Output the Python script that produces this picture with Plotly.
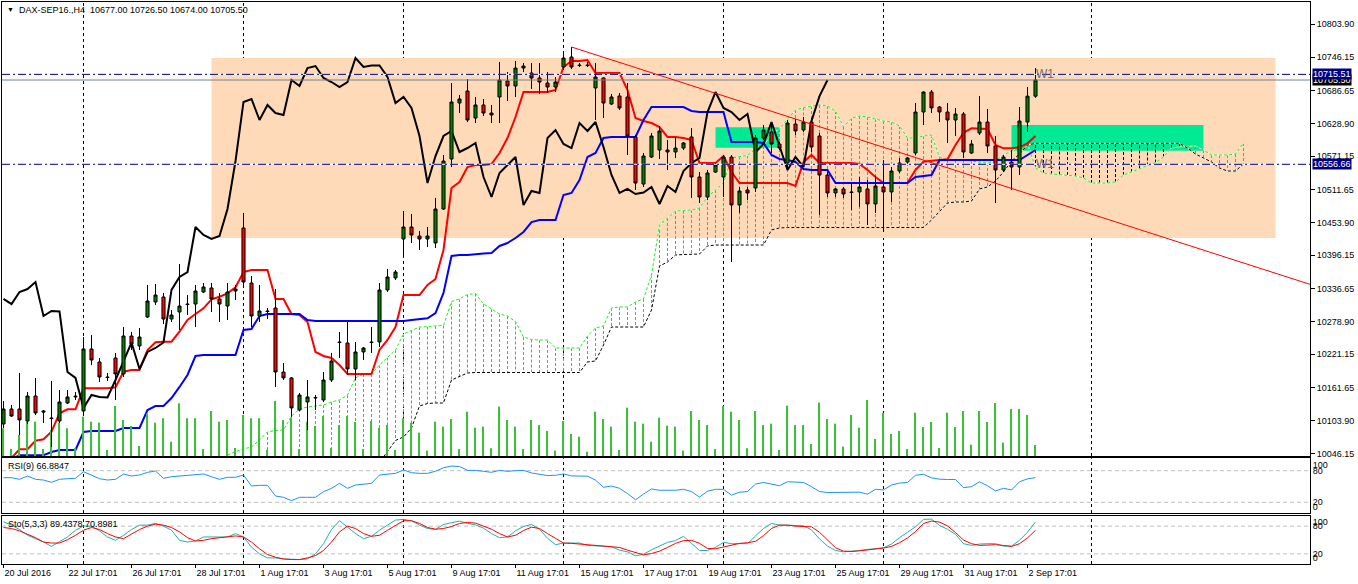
import plotly.graph_objects as go

# DAX-SEP16 H4 bars, 20 Jul 2016 17:01 .. 2 Sep 2016
bar_open = [
    10098.0, 10124.5, 10124.5, 10103.3, 10147.5, 10121.0, 10108.6, 10103.3, 10135.1, 10145.7,
    10121.0, 10230.5, 10207.5, 10181.0, 10214.6, 10186.3, 10253.4, 10235.8, 10287.0, 10313.5,
    10322.3, 10283.4, 10295.8, 10309.9, 10309.9, 10331.1, 10338.2, 10318.8, 10306.4, 10332.9,
    10444.2, 10347.0, 10288.7, 10297.6, 10302.9, 10189.8, 10179.3, 10122.7, 10136.9, 10143.9,
    10140.4, 10175.7, 10242.8, 10241.1, 10195.2, 10225.2, 10242.8, 10242.8, 10334.7, 10355.9,
    10424.7, 10445.9, 10430.0, 10424.7, 10417.7, 10477.7, 10566.0, 10664.9, 10686.1, 10638.4,
    10661.4, 10647.2, 10675.5, 10703.8, 10694.9, 10726.7, 10717.9, 10709.1, 10700.2, 10693.2,
    10728.5, 10746.1, 10732.0, 10732.0, 10691.4, 10709.1, 10663.1, 10677.3, 10675.5, 10604.9,
    10521.8, 10569.5, 10581.9, 10581.9, 10578.4, 10585.4, 10604.9, 10534.2, 10498.9, 10543.0,
    10534.2, 10569.5, 10484.8, 10511.3, 10514.8, 10603.1, 10613.7, 10592.5, 10558.9, 10627.8,
    10617.2, 10631.3, 10606.6, 10537.7, 10506.0, 10513.1, 10507.8, 10507.8, 10513.1, 10486.6,
    10516.6, 10507.8, 10544.8, 10560.7, 10576.6, 10649.0, 10684.3, 10657.8, 10649.0, 10634.9,
    10645.5, 10576.6, 10611.9, 10631.3, 10589.0, 10546.6, 10560.7, 10551.9, 10631.3, 10677.0,
]
bar_high = [
    10138.6, 10131.6, 10188.1, 10154.5, 10179.3, 10122.7, 10174.0, 10158.1, 10158.1, 10154.5,
    10251.6, 10255.2, 10214.6, 10188.1, 10223.4, 10269.3, 10260.5, 10267.5, 10343.5, 10345.3,
    10329.4, 10299.3, 10380.6, 10325.8, 10343.5, 10347.0, 10347.0, 10329.4, 10347.0, 10343.5,
    10470.7, 10359.4, 10343.5, 10302.9, 10336.4, 10205.7, 10181.0, 10152.8, 10175.7, 10149.2,
    10189.8, 10223.4, 10260.5, 10278.1, 10242.8, 10234.0, 10269.3, 10347.0, 10371.7, 10370.0,
    10474.2, 10468.9, 10438.9, 10445.9, 10497.2, 10573.1, 10700.2, 10679.0, 10707.3, 10675.5,
    10672.0, 10661.4, 10737.3, 10719.6, 10739.1, 10735.5, 10735.5, 10735.5, 10719.6, 10710.8,
    10751.4, 10763.8, 10735.5, 10737.3, 10735.5, 10710.0, 10680.8, 10682.6, 10700.2, 10608.4,
    10576.6, 10611.9, 10624.3, 10599.6, 10604.9, 10596.1, 10620.8, 10543.0, 10546.6, 10558.9,
    10573.1, 10573.1, 10516.6, 10516.6, 10608.4, 10626.0, 10631.3, 10596.1, 10634.9, 10636.6,
    10640.2, 10638.4, 10611.9, 10543.0, 10514.8, 10516.6, 10523.6, 10534.2, 10528.9, 10536.0,
    10564.2, 10551.9, 10567.8, 10569.5, 10664.9, 10685.5, 10687.9, 10659.6, 10664.9, 10656.1,
    10649.0, 10599.6, 10677.3, 10654.3, 10606.6, 10573.1, 10581.9, 10657.8, 10693.2, 10726.5,
]
bar_low = [
    10091.0, 10110.4, 10078.6, 10098.0, 10113.9, 10099.8, 10057.4, 10099.8, 10133.3, 10140.4,
    10112.1, 10202.2, 10172.2, 10174.0, 10140.4, 10181.0, 10228.7, 10228.7, 10285.2, 10308.2,
    10274.6, 10278.1, 10264.0, 10290.5, 10269.3, 10329.4, 10295.8, 10278.1, 10281.7, 10317.0,
    10340.0, 10269.3, 10278.1, 10283.4, 10163.4, 10175.7, 10110.4, 10121.0, 10087.4, 10122.7,
    10136.9, 10172.2, 10214.6, 10184.6, 10175.7, 10211.0, 10223.4, 10234.0, 10331.1, 10352.3,
    10394.7, 10417.7, 10405.3, 10410.6, 10408.8, 10476.0, 10551.9, 10647.2, 10631.3, 10629.6,
    10641.9, 10629.6, 10629.6, 10668.4, 10675.5, 10719.6, 10689.6, 10680.8, 10682.6, 10684.3,
    10723.2, 10724.9, 10728.5, 10728.5, 10634.9, 10638.4, 10661.4, 10652.5, 10573.1, 10511.3,
    10516.6, 10567.8, 10566.0, 10546.6, 10567.8, 10581.9, 10497.2, 10488.3, 10493.6, 10541.3,
    10498.9, 10384.1, 10470.7, 10493.6, 10507.8, 10599.6, 10576.6, 10581.9, 10546.6, 10608.4,
    10613.7, 10578.4, 10467.1, 10498.9, 10498.9, 10497.2, 10476.0, 10481.3, 10449.5, 10470.7,
    10437.1, 10490.1, 10541.3, 10557.2, 10573.1, 10626.0, 10647.2, 10631.3, 10594.3, 10606.6,
    10567.8, 10575.0, 10608.4, 10576.6, 10488.3, 10543.0, 10511.3, 10537.7, 10613.7, 10674.0,
]
bar_close = [
    10124.5, 10112.1, 10105.1, 10147.5, 10117.4, 10119.2, 10107.7, 10136.9, 10145.7, 10147.0,
    10230.5, 10211.0, 10181.0, 10180.1, 10186.3, 10253.4, 10239.3, 10251.6, 10315.2, 10325.8,
    10283.4, 10290.5, 10306.4, 10309.1, 10332.9, 10340.0, 10318.8, 10309.9, 10331.1, 10336.4,
    10348.8, 10288.7, 10297.6, 10296.7, 10189.8, 10179.3, 10126.3, 10149.2, 10145.7, 10144.8,
    10175.7, 10209.3, 10241.9, 10195.2, 10225.2, 10232.2, 10241.9, 10334.7, 10357.6, 10366.4,
    10445.9, 10431.8, 10424.7, 10430.0, 10477.7, 10562.5, 10666.7, 10672.0, 10634.9, 10661.4,
    10647.2, 10643.7, 10705.5, 10694.9, 10726.7, 10730.2, 10709.1, 10702.0, 10693.2, 10702.0,
    10744.4, 10728.5, 10731.1, 10731.1, 10710.8, 10664.9, 10675.5, 10656.1, 10606.6, 10523.6,
    10571.3, 10606.6, 10615.5, 10578.4, 10585.4, 10594.3, 10534.2, 10498.9, 10541.3, 10555.4,
    10569.5, 10484.8, 10509.5, 10506.0, 10603.1, 10617.2, 10592.5, 10585.4, 10629.6, 10615.5,
    10631.3, 10587.2, 10537.7, 10506.0, 10513.1, 10504.2, 10506.9, 10516.6, 10486.6, 10518.3,
    10507.8, 10544.8, 10558.9, 10567.8, 10649.0, 10684.3, 10656.1, 10649.0, 10634.9, 10645.5,
    10578.4, 10592.5, 10631.3, 10589.0, 10546.6, 10569.5, 10551.9, 10633.1, 10677.0, 10705.5,
]
tick_volume = [
    1385, 350, 1050, 1715, 1715, 350, 1300, 1665, 1385, 400,
    1965, 1715, 1665, 300, 2500, 1800, 1500, 500, 2135, 1665,
    1885, 715, 2635, 1885, 1885, 350, 2250, 1715, 1800, 400,
    2050, 1885, 1885, 300, 2750, 1800, 1885, 350, 1715, 1500,
    2000, 400, 1550, 2000, 1700, 350, 1750, 1400, 1550, 300,
    1885, 1665, 1165, 265, 1715, 1465, 1850, 350, 2215, 1415,
    1465, 385, 2465, 1800, 1465, 350, 1800, 1550, 1250, 265,
    1750, 1100, 965, 215, 2215, 1850, 1465, 300, 2415, 1715,
    1615, 715, 1915, 1515, 1465, 265, 2250, 1800, 1550, 350,
    2500, 2215, 1800, 385, 2250, 1550, 1615, 300, 2515, 1550,
    1550, 600, 2665, 1850, 1615, 465, 2050, 1415, 2800, 850,
    2165, 1100, 1250, 350, 2165, 1450, 1700, 400, 2165, 1450,
    2250, 565, 2250, 1700, 2650, 665, 2350, 2350, 2050, 550,
]

# Ichimoku (9, 26, 52) buffers as drawn
tenkan = [
    10030.0, 10038.0, 10053.3, 10053.3, 10068.5, 10071.0, 10084.4, 10116.9, 10124.0, 10124.0,
    10161.1, 10161.1, 10161.1, 10161.1, 10162.8, 10190.4, 10193.4, 10193.4, 10228.7, 10242.3,
    10243.4, 10243.4, 10261.0, 10281.7, 10292.3, 10302.3, 10318.2, 10322.8, 10328.8, 10339.4,
    10366.4, 10370.0, 10370.0, 10370.0, 10318.8, 10318.8, 10292.3, 10290.5, 10278.1, 10225.2,
    10218.1, 10214.6, 10202.2, 10186.3, 10186.3, 10186.3, 10186.3, 10228.7, 10246.4, 10269.3,
    10325.8, 10325.8, 10325.8, 10343.5, 10354.1, 10405.3, 10514.8, 10525.4, 10551.9, 10555.4,
    10555.4, 10557.2, 10576.6, 10603.1, 10640.2, 10684.3, 10684.3, 10684.3, 10684.3, 10687.9,
    10728.5, 10739.1, 10739.1, 10740.8, 10717.9, 10717.9, 10717.9, 10717.9, 10687.9, 10638.4,
    10633.1, 10629.6, 10622.5, 10604.9, 10604.9, 10603.1, 10599.6, 10558.9, 10558.9, 10558.9,
    10571.3, 10543.0, 10523.6, 10523.6, 10523.6, 10523.6, 10523.6, 10523.6, 10523.6, 10518.3,
    10560.7, 10573.1, 10558.9, 10558.9, 10558.9, 10558.9, 10558.9, 10557.2, 10546.6, 10534.2,
    10523.6, 10523.6, 10523.6, 10524.2, 10546.6, 10561.2, 10563.0, 10564.2, 10565.5, 10590.7,
    10612.5, 10620.2, 10620.2, 10619.0, 10590.7, 10584.9, 10584.9, 10586.7, 10593.7, 10606.6,
]
kijun = [
    10030.0, 10035.0, 10043.0, 10043.0, 10043.0, 10043.0, 10048.6, 10052.1, 10052.1, 10052.1,
    10083.9, 10085.7, 10085.7, 10085.7, 10085.7, 10091.0, 10091.0, 10091.0, 10122.7, 10129.8,
    10129.8, 10143.9, 10163.4, 10184.6, 10218.1, 10219.9, 10219.9, 10219.9, 10219.9, 10219.9,
    10264.0, 10265.8, 10288.7, 10292.3, 10292.3, 10292.3, 10292.3, 10292.3, 10281.7, 10279.9,
    10279.9, 10279.9, 10279.9, 10279.9, 10279.9, 10279.9, 10279.9, 10279.9, 10279.9, 10279.9,
    10279.9, 10281.7, 10282.6, 10284.7, 10294.0, 10329.4, 10394.7, 10396.5, 10396.5, 10398.2,
    10399.1, 10400.0, 10412.4, 10417.7, 10426.5, 10437.1, 10454.7, 10458.3, 10458.3, 10458.3,
    10502.4, 10506.0, 10528.9, 10569.5, 10576.6, 10603.1, 10604.9, 10604.9, 10604.9, 10604.9,
    10634.9, 10657.8, 10657.8, 10657.8, 10657.8, 10657.8, 10650.8, 10649.0, 10649.0, 10649.0,
    10649.0, 10596.0, 10596.0, 10596.0, 10596.0, 10594.3, 10573.1, 10566.0, 10564.2, 10560.7,
    10548.3, 10546.6, 10546.6, 10546.6, 10523.6, 10523.6, 10523.6, 10523.6, 10523.6, 10523.6,
    10523.6, 10523.6, 10523.6, 10523.6, 10534.2, 10536.0, 10537.7, 10564.2, 10564.2, 10564.2,
    10564.2, 10564.2, 10564.2, 10564.2, 10564.2, 10564.2, 10564.2, 10564.2, 10573.1, 10581.9,
]
# senkou spans run 26 bars past the last candle (bars 0..155); nothing visible before bar 28
span_a = [None] * 28 + [
    10043.3, 10049.4, 10053.9, 10057.4, 10069.8, 10083.9, 10086.5, 10087.4, 10112.1, 10124.5,
    10128.0, 10129.8, 10131.6, 10136.9, 10140.4, 10149.2, 10179.3, 10186.3, 10186.3, 10202.2,
    10215.5, 10228.7, 10256.9, 10263.1, 10269.3, 10270.2, 10271.1, 10272.0, 10314.3, 10318.8,
    10326.7, 10328.5, 10309.9, 10301.1, 10292.3, 10288.7, 10279.0, 10251.6, 10247.2, 10246.4,
    10246.4, 10232.2, 10232.2, 10232.2, 10232.2, 10253.4, 10267.5, 10271.1, 10302.9, 10304.6,
    10304.6, 10313.5, 10318.8, 10361.1, 10449.5, 10461.8, 10474.2, 10475.1, 10476.0, 10479.5,
    10498.9, 10511.3, 10523.6, 10567.8, 10570.4, 10572.2, 10583.7, 10589.0, 10610.2, 10619.0,
    10636.6, 10652.5, 10656.9, 10659.6, 10661.4, 10659.6, 10650.8, 10623.0, 10638.4, 10641.9,
    10640.2, 10636.6, 10633.1, 10631.3, 10624.3, 10603.1, 10603.1, 10606.6, 10608.4, 10569.5,
    10564.2, 10564.2, 10564.2, 10562.5, 10560.7, 10558.9, 10563.4, 10573.1, 10580.1, 10587.2,
    10593.4, 10550.1, 10541.3, 10539.5, 10538.6, 10537.7, 10536.0, 10532.5, 10523.6, 10523.6,
    10523.6, 10525.4, 10537.7, 10543.0, 10549.2, 10554.5, 10559.8, 10569.5, 10585.4, 10587.7,
    10588.1, 10589.0, 10581.9, 10573.1, 10573.1, 10573.1, 10574.8, 10594.3,
]
span_b = [None] * 28 + [10010.0] * 19 + [10030.0] + [
    10048.6, 10068.9, 10075.1, 10091.0, 10129.8, 10134.2, 10135.1, 10135.1, 10175.7, 10181.9,
    10188.1] + [10189.0] * 14 + [10207.5, 10209.3, 10237.5] + [10269.3] * 5 + [
    10299.3, 10377.0, 10384.1, 10396.5, 10397.3, 10397.3, 10398.2, 10412.4] + [10414.1] * 7 + [
    10440.7, 10444.2] + [10445.0] * 18 + [
    10458.3, 10472.4, 10488.3, 10490.1, 10490.1, 10491.8, 10513.1, 10516.6, 10527.2, 10543.0,
    10562.5, 10574.8, 10590.7] + [10593.7] * 19 + [
    10585.4, 10574.8, 10567.8, 10560.7, 10550.1, 10544.8, 10544.8, 10557.2]
chikou_shift = 26

rsi9 = [
    66.7, 66.7, 63.6, 69.9, 63.6, 62.3, 57.9, 63.6, 64.8, 65.5,
    78.1, 71.8, 64.8, 62.3, 63.6, 73.7, 69.9, 71.8, 76.8, 79.4,
    65.5, 68.6, 69.9, 71.2, 73.1, 73.7, 68.6, 63.6, 67.4, 67.4,
    71.8, 50.9, 52.2, 52.2, 32.0, 29.5, 23.2, 29.5, 29.5, 29.5,
    40.2, 46.5, 56.0, 46.5, 52.8, 54.7, 56.0, 71.8, 73.7, 74.9,
    81.3, 76.2, 74.9, 74.9, 79.0, 85.5, 88.7, 88.0, 80.6, 80.6,
    78.8, 76.9, 80.6, 78.8, 80.0, 80.6, 75.7, 72.6, 70.7, 71.3,
    73.8, 70.1, 70.1, 69.5, 62.1, 48.5, 50.9, 46.6, 36.7, 24.9,
    35.5, 45.4, 42.9, 42.3, 42.9, 44.7, 40.4, 29.9, 41.0, 44.7,
    44.7, 33.6, 39.2, 40.4, 54.6, 57.7, 55.3, 51.5, 59.0, 59.0,
    57.7, 49.7, 40.4, 38.6, 38.6, 38.6, 37.9, 39.2, 35.5, 44.7,
    43.5, 52.8, 56.5, 57.7, 71.3, 73.2, 66.4, 63.9, 63.3, 63.3,
    47.8, 49.7, 59.0, 51.5, 41.6, 46.6, 43.5, 59.0, 64.5, 66.8847,
]
sto_main = [
    89.5, 82.2, 72.7, 60.2, 52.9, 45.6, 36.1, 45.6, 56.6, 71.2,
    80.0, 80.0, 69.8, 56.6, 49.3, 60.2, 72.7, 82.2, 82.2, 85.9,
    80.0, 71.2, 49.3, 45.6, 47.8, 56.6, 56.6, 55.1, 56.6, 63.9,
    56.6, 34.6, 20.0, 11.2, 11.2, 9.0, 7.6, 7.6, 9.0, 20.0,
    42.0, 72.7, 91.7, 77.1, 63.9, 52.9, 58.0, 71.2, 82.2, 93.2,
    94.6, 91.7, 82.2, 74.9, 73.0, 83.5, 87.5, 91.0, 85.9, 82.9,
    75.6, 63.9, 55.1, 56.6, 69.8, 79.3, 83.7, 73.4, 53.7, 39.8,
    43.4, 44.1, 43.4, 38.3, 36.8, 36.8, 35.4, 28.0, 24.4, 15.6,
    19.3, 28.8, 36.8, 44.9, 48.5, 58.0, 42.7, 27.3, 27.3, 33.9,
    44.9, 42.0, 42.0, 42.0, 58.8, 74.9, 85.9, 82.2, 82.2, 80.7,
    80.7, 72.0, 52.2, 36.8, 27.3, 24.4, 25.1, 27.3, 29.5, 31.0,
    33.2, 41.2, 55.1, 66.8, 78.5, 94.6, 95.4, 81.5, 73.4, 62.4,
    42.0, 38.3, 41.2, 42.0, 42.0, 36.8, 36.8, 49.3, 66.8, 89.4378,
]
sto_signal = [
    77.1, 74.9, 69.8, 62.4, 55.1, 45.6, 43.4, 43.4, 50.7, 60.2,
    71.2, 77.1, 72.7, 63.9, 56.6, 52.9, 62.4, 72.7, 80.0, 84.4,
    82.2, 77.1, 67.6, 55.1, 47.8, 49.3, 52.9, 55.1, 56.6, 58.8,
    56.6, 45.6, 31.0, 18.5, 12.7, 9.0, 7.6, 7.6, 11.2, 16.3,
    27.3, 45.6, 67.6, 80.0, 74.9, 63.9, 58.0, 60.2, 71.2, 82.2,
    91.7, 91.7, 85.9, 77.1, 73.4, 74.9, 79.2, 85.9, 88.0, 86.6,
    80.7, 73.4, 63.9, 56.6, 60.2, 70.5, 77.8, 74.9, 63.9, 52.9,
    43.4, 42.7, 41.2, 39.8, 38.3, 37.6, 36.8, 33.9, 28.0, 22.9,
    17.8, 20.7, 25.9, 33.9, 42.7, 48.5, 49.3, 42.7, 31.7, 31.0,
    34.6, 39.8, 42.7, 44.1, 47.1, 59.5, 74.9, 82.2, 82.2, 80.0,
    80.0, 78.5, 66.8, 49.3, 33.2, 25.9, 25.1, 26.6, 28.0, 31.0,
    32.4, 36.1, 44.1, 54.4, 68.3, 85.9, 91.0, 88.8, 80.7, 66.1,
    50.0, 42.0, 38.3, 39.0, 39.8, 38.3, 36.1, 42.0, 54.4, 70.8981,
]

# time axis labels (every 8th bar) and the weekly grid
tick_bars = [0, 8, 16, 24, 32, 40, 48, 56, 64, 72, 80, 88, 96, 104, 112, 120, 128]
tick_text = ["20 Jul 2016", "22 Jul 17:01", "26 Jul 17:01", "28 Jul 17:01", "1 Aug 17:01",
             "3 Aug 17:01", "5 Aug 17:01", "9 Aug 17:01", "11 Aug 17:01", "15 Aug 17:01",
             "17 Aug 17:01", "19 Aug 17:01", "23 Aug 17:01", "25 Aug 17:01", "29 Aug 17:01",
             "31 Aug 17:01", "2 Sep 17:01"]
grid_bars = [10, 30, 50, 70, 90, 110, 136]
price_ticks = [10803.90, 10746.15, 10686.65, 10628.90, 10571.15, 10511.65, 10453.90,
               10396.15, 10336.65, 10278.90, 10221.15, 10161.65, 10103.90, 10046.15]

# chart objects drawn by the trader: (bar0, bar1, price_low, price_high)
box_range = [26, 159, 10426.5, 10744.4]
box_zone1 = [89, 97, 10586.0, 10622.0]
box_zone2 = [126, 150, 10580.7, 10626.0]
trend_pts = [(71, 10763.8), (163.3, 10344.7)]
w1_levels = [10715.51, 10556.66]

FONT = "Liberation Sans, Arial, sans-serif"
LIME = "#22EE22"
NAVY = "#000080"
VOL_GREEN = "#3CBE3C"
PRICE_RANGE = [10041.5, 10843.3]

bars = list(range(len(bar_close)))
cloud_bars = list(range(len(span_a)))

fig = go.Figure()

# kumo hatching: lime where span A is on top, black where span B is on top
up_x, up_y, dn_x, dn_y = [], [], [], []
for i, a, b in zip(cloud_bars, span_a, span_b):
    if a is None or b is None:
        continue
    if a >= b:
        up_x += [i, i, None]
        up_y += [a, b, None]
    else:
        dn_x += [i, i, None]
        dn_y += [a, b, None]
fig.add_trace(go.Scatter(x=up_x, y=up_y, mode="lines",
                         line=dict(color="#11DD11", width=1, dash="3px,2px")))
fig.add_trace(go.Scatter(x=dn_x, y=dn_y, mode="lines",
                         line=dict(color="black", width=1, dash="3px,2px")))
for span, col in ((span_a, LIME), (span_b, "black")):
    fig.add_trace(go.Scatter(x=cloud_bars, y=span, mode="lines",
                             line=dict(color="white", width=1)))
    fig.add_trace(go.Scatter(x=cloud_bars, y=span, mode="lines",
                             line=dict(color=col, width=1, dash="3px,2px")))

fig.add_trace(go.Scatter(x=bars, y=tenkan, mode="lines", line=dict(color="#FF0000", width=2)))
fig.add_trace(go.Scatter(x=bars, y=kijun, mode="lines", line=dict(color="#0000FF", width=2)))
fig.add_trace(go.Scatter(x=bars[:len(bars) - chikou_shift], y=bar_close[chikou_shift:],
                         mode="lines", line=dict(color="black", width=2)))

# volumes (own scale, bottom of the main window)
fig.add_trace(go.Bar(x=bars, y=tick_volume, width=0.14, yaxis="y4",
                     marker=dict(color=VOL_GREEN, line=dict(width=0))))

# candles in the foreground
fig.add_trace(go.Candlestick(
    x=bars, open=bar_open, high=bar_high, low=bar_low, close=bar_close,
    increasing=dict(line=dict(color="black", width=1), fillcolor="#008000"),
    decreasing=dict(line=dict(color="black", width=1), fillcolor="#FF0000"),
    whiskerwidth=0, yaxis="y5", hoverinfo="skip",
))

# RSI and stochastic windows
fig.add_trace(go.Scatter(x=bars, y=rsi9, mode="lines", line=dict(color="#1E90FF", width=1),
                         xaxis="x2", yaxis="y2"))
fig.add_trace(go.Scatter(x=bars, y=sto_main, mode="lines", line=dict(color="#20B2AA", width=1),
                         xaxis="x3", yaxis="y3"))
fig.add_trace(go.Scatter(x=bars, y=sto_signal, mode="lines", line=dict(color="#FF0000", width=1),
                         xaxis="x3", yaxis="y3"))

shapes = []
shapes.append(dict(type="rect", xref="x", yref="y", layer="below",
                   x0=box_range[0], x1=box_range[1], y0=box_range[2], y1=box_range[3],
                   fillcolor="#FFDAB9", line=dict(width=0)))
for z in (box_zone1, box_zone2):
    shapes.append(dict(type="rect", xref="x", yref="y", layer="below",
                       x0=z[0], x1=z[1], y0=z[2], y1=z[3],
                       fillcolor="#00EA94", line=dict(width=0)))
for g in grid_bars:
    for xr, yr in (("x", "y domain"), ("x2", "y2 domain"), ("x3", "y3 domain")):
        shapes.append(dict(type="line", xref=xr, yref=yr, layer="below",
                           x0=g, x1=g, y0=0, y1=1,
                           line=dict(color="black", width=1, dash="3px,3px")))
for yr, xr in (("y2", "x2 domain"), ("y3", "x3 domain")):
    for lv in (80, 20):
        shapes.append(dict(type="line", xref=xr, yref=yr, layer="below",
                           x0=0, x1=1, y0=lv, y1=lv,
                           line=dict(color="#C0C0C0", width=1, dash="4px,3px")))
# bid line, W1 levels and the trend line
shapes.append(dict(type="line", xref="x domain", yref="y", x0=0, x1=1,
                   y0=bar_close[-1], y1=bar_close[-1], line=dict(color="#708090", width=1)))
for lv in w1_levels:
    shapes.append(dict(type="line", xref="x domain", yref="y", x0=0, x1=1, y0=lv, y1=lv,
                       line=dict(color="white", width=1)))
    shapes.append(dict(type="line", xref="x domain", yref="y", x0=0, x1=1, y0=lv, y1=lv,
                       line=dict(color=NAVY, width=1, dash="8px,3px,2px,3px")))
shapes.append(dict(type="line", xref="x", yref="y",
                   x0=trend_pts[0][0], y0=trend_pts[0][1], x1=trend_pts[1][0], y1=trend_pts[1][1],
                   line=dict(color="#FF0000", width=1)))

annotations = []


def paper_note(text, px, py, size=9, color="black"):
    # position given in screen pixels of the 1358x584 window
    annotations.append(dict(text=text, xref="paper", yref="paper",
                            x=(px - 2) / 1308, y=(564 - py) / 562,
                            xanchor="left", yanchor="middle", showarrow=False,
                            font=dict(family=FONT, size=size, color=color)))


paper_note("\u25bc", 5, 10, size=7)
paper_note("DAX-SEP16.,H4\u00a0\u00a0%.2f %.2f %.2f %.2f"
           % (bar_open[-1], bar_high[-1], bar_low[-1], bar_close[-1]), 17, 10)
paper_note("RSI(9) %.4f" % rsi9[-1], 6, 466)
paper_note("Sto(5,3,3) %.4f %.4f" % (sto_main[-1], sto_signal[-1]), 6, 524)

for lv in w1_levels:
    annotations.append(dict(text="W1", xref="x", yref="y", x=128.8, y=lv,
                            xanchor="left", yanchor="middle", showarrow=False,
                            font=dict(family=FONT, size=12, color="#6E6E6E")))

for val, bg in ((bar_close[-1], "black"), (w1_levels[0], NAVY), (w1_levels[1], NAVY)):
    annotations.append(dict(text="%.2f" % val, xref="paper", yref="y", x=1.0012, y=val,
                            xanchor="left", yanchor="middle", showarrow=False,
                            bgcolor=bg, borderpad=0,
                            font=dict(family=FONT, size=9, color="white")))

axis_common = dict(showline=True, linecolor="black", linewidth=1, mirror=True,
                   showgrid=False, zeroline=False,
                   tickfont=dict(family=FONT, size=9, color="black"))
x_range = [-0.1875, 163.3125]

fig.update_layout(
    width=1358, height=584,
    margin=dict(l=2, r=48, t=2, b=20),
    paper_bgcolor="white", plot_bgcolor="white",
    showlegend=False, hovermode=False, boxgap=0.45,
    font=dict(family=FONT, size=9, color="black"),
    xaxis=dict(anchor="y", range=x_range, showticklabels=False, ticks="",
               rangeslider=dict(visible=False), **axis_common),
    xaxis2=dict(anchor="y2", matches="x", range=x_range, showticklabels=False, ticks="",
                **axis_common),
    xaxis3=dict(anchor="y3", matches="x", range=x_range, tickmode="array",
                tickvals=tick_bars, ticktext=tick_text, ticks="outside", ticklen=3,
                tickcolor="black", ticklabelposition="outside right", **axis_common),
    yaxis=dict(domain=[0.1922, 1.0], range=PRICE_RANGE, side="right", tickmode="array",
               tickvals=price_ticks, ticktext=["%.2f" % v for v in price_ticks],
               ticks="outside", ticklen=4, tickcolor="black", **axis_common),
    yaxis2=dict(domain=[0.0907, 0.1881], range=[-0.3, 103.5], side="right", tickmode="array",
                tickvals=[90.3, 80, 20, 11.1], ticktext=["100", "80", "20", "0"], ticks="",
                **axis_common),
    yaxis3=dict(domain=[0.0, 0.0859], range=[-2.0, 102.6], side="right", tickmode="array",
                tickvals=[88.8, 80, 20, 10.3], ticktext=["100", "80", "20", "0"], ticks="",
                **axis_common),
    yaxis4=dict(overlaying="y", range=[0, 22700], visible=False, fixedrange=True),
    yaxis5=dict(overlaying="y", range=PRICE_RANGE, visible=False),
    shapes=shapes,
    annotations=annotations,
)

# the page's default 8px body margin would push the chart off the 1358x584 window
fig.write_html("out.html", config={"displayModeBar": False},
               post_script="document.body.style.margin='0px';")
